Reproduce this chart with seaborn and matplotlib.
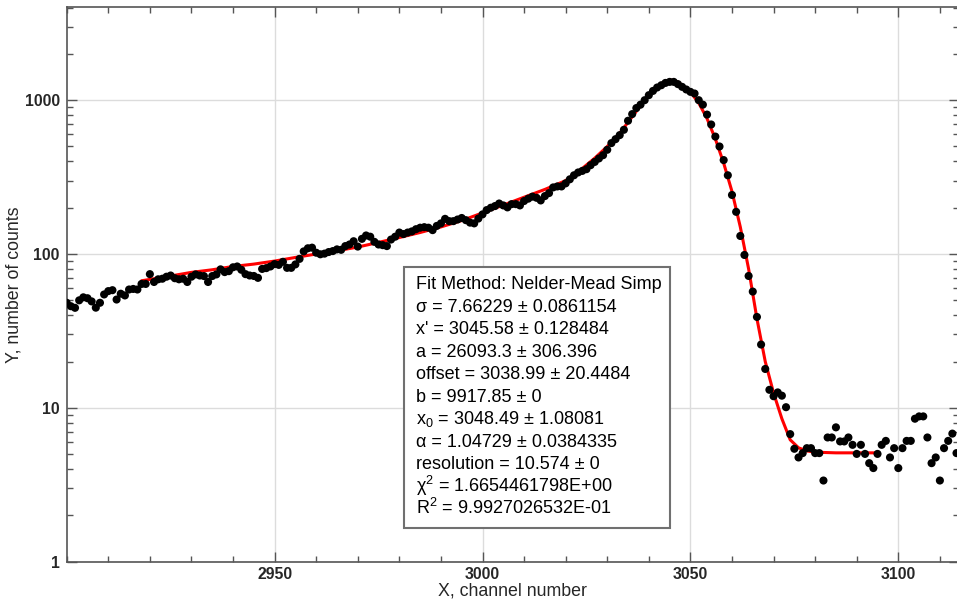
from matplotlib import pyplot as plt
from matplotlib import ticker
import seaborn as sns
import pandas as pd

# ─────────────────────────────────────────────
# DATA
# ─────────────────────────────────────────────

channel = list(range(2900, 3115))

counts = [
    48.2, 45.8, 44.7, 50.0, 52.3, 51.6, 49.2, 44.8, 48.2, 54.6,      # 2900
    57.4, 58.2, 50.6, 55.2, 53.8, 58.8, 59.3, 58.8, 63.9, 63.9,      # 2910
    74.0, 65.8, 68.5, 69.1, 71.2, 72.5, 69.6, 68.5, 69.1, 65.8,      # 2920
    71.2, 73.7, 72.5, 71.9, 65.8, 71.9, 73.7, 79.5, 76.3, 77.4,      # 2930
    82.0, 83.0, 79.0, 74.0, 72.5, 72.0, 70.0, 80.0, 81.0, 83.0,      # 2940
    86.0, 85.0, 89.0, 81.3, 81.3, 85.6, 93.0, 104.0, 109.0, 110.0,   # 2950
    102.0, 99.6, 100.6, 103.0, 104.5, 107.2, 106.5, 112.6, 115.3, 121.1,  # 2960
    111.8, 125.5, 132.0, 129.6, 120.0, 115.3, 114.2, 112.6, 124.2, 129.6,  # 2970
    137.9, 134.8, 137.9, 140.3, 145.0, 148.3, 149.5, 148.3, 143.0, 152.3,  # 2980
    158.2, 169.3, 163.6, 163.6, 167.6, 171.5, 166.0, 160.0, 158.2, 170.0,  # 2990
    181, 193, 200, 205, 213, 207, 201, 211, 211, 207,                # 3000
    221, 229, 236, 232, 223, 238, 249, 271, 275, 275,                # 3010
    288, 306, 325, 339, 347, 356, 378, 397, 418, 439,                # 3020
    476, 526, 558, 593, 642, 735, 812, 889, 935, 1000,               # 3030
    1078, 1149, 1209, 1251, 1295, 1315, 1315, 1272, 1221, 1174,      # 3040
    1133, 1105, 1000, 935, 806, 695, 580, 500, 408, 325,             # 3050
    242, 188, 131, 98.6, 72.0, 57.0, 39.0, 25.8, 17.9, 13.1,         # 3060
    11.9, 12.6, 12.0, 10.1, 6.75, 5.42, 4.76, 5.08, 5.47, 5.47,      # 3070
    5.08, 5.08, 3.37, 6.42, 6.42, 7.47, 6.05, 6.05, 6.42, 5.75,      # 3080
    5.02, 5.75, 5.02, 4.37, 4.06, 5.02, 5.75, 6.10, 4.76, 5.47,      # 3090
    4.06, 5.47, 6.10, 6.10, 8.50, 8.80, 8.80, 6.42, 4.37, 4.76,      # 3100
    3.37, 5.47, 6.10, 6.80, 5.08,                                    # 3110
]

# fitted curve (red), read at selected channels
fit_x = [2918, 2925, 2930, 2935, 2940, 2945, 2950, 2955, 2960, 2965,
         2970, 2975, 2980, 2985, 2990, 2995, 3000, 3005, 3010, 3015,
         3020, 3024, 3027, 3030, 3033, 3036, 3038, 3040, 3042, 3044,
         3045, 3046, 3047, 3048, 3050, 3052, 3054, 3056, 3058, 3060,
         3062, 3064, 3066, 3068, 3070, 3072, 3074, 3076, 3078, 3080,
         3085, 3090, 3095]
fit_y = [67, 72, 76, 79, 83, 86, 90, 95, 100, 105,
         111, 119, 128, 138, 150, 165, 185, 208, 234, 263,
         300, 360, 420, 500, 610, 780, 920, 1080, 1230, 1330,
         1350, 1345, 1310, 1250, 1130, 960, 760, 560, 390, 255,
         150, 80, 38, 20, 12.5, 8.5, 6.2, 5.5, 5.25, 5.15,
         5.1, 5.1, 5.1]

x_ticks = [2950, 3000, 3050, 3100]
y_ticks = [1, 10, 100, 1000]
y_tick_labels = ['1', '10', '100', '1000']

fit_lines = [
    'Fit Method: Nelder-Mead Simp',
    'σ = 7.66229 ± 0.0861154',
    "x' = 3045.58 ± 0.128484",
    'a = 26093.3 ± 306.396',
    'offset = 3038.99 ± 20.4484',
    'b = 9917.85 ± 0',
    r'x$_\mathregular{0}$ = 3048.49 ± 1.08081',
    'α = 1.04729 ± 0.0384335',
    'resolution = 10.574 ± 0',
    r'χ$^\mathregular{2}$ = 1.6654461798E+00',
    r'R$^\mathregular{2}$ = 9.9927026532E-01',
]

df = pd.DataFrame({'channel': channel, 'counts': counts})
fit = pd.DataFrame({'channel': fit_x, 'counts': fit_y})

# ─────────────────────────────────────────────
# STYLE
# ─────────────────────────────────────────────

sns.set_style('ticks')
plt.rcParams['font.family'] = ['Liberation Sans', 'DejaVu Sans']
plt.rcParams['mathtext.fontset'] = 'custom'
plt.rcParams['mathtext.rm'] = 'Liberation Sans'

fig = plt.figure(figsize=(9.57, 6.01), dpi=100)
ax = fig.add_axes([0.0697, 0.0654, 0.9324, 0.923])

# ─────────────────────────────────────────────
# PLOT
# ─────────────────────────────────────────────

sns.lineplot(data=fit, x='channel', y='counts', color='red', linewidth=2.2,
             ax=ax, zorder=2)
sns.scatterplot(data=df, x='channel', y='counts', color='black', s=34,
                edgecolor='none', ax=ax, zorder=3)

ax.set_yscale('log')
ax.set_xlim(2900, 3114.6)
ax.set_ylim(1, 4036)

ax.set_xticks(x_ticks)
ax.set_xticklabels([str(t) for t in x_ticks])
ax.xaxis.set_minor_locator(ticker.MultipleLocator(10))
ax.set_yticks(y_ticks)
ax.set_yticklabels(y_tick_labels)
ax.yaxis.set_minor_locator(ticker.LogLocator(base=10, subs=range(2, 10)))
ax.yaxis.set_minor_formatter(ticker.NullFormatter())

ax.grid(True, which='major', color='#dcdcdc', linewidth=1.0)
ax.set_axisbelow(True)

ax.tick_params(which='both', direction='in', top=True, right=True,
               color='#555555', width=1.0)
ax.tick_params(which='major', length=7, labelsize=11.4)
ax.tick_params(axis='x', which='major', pad=3.5)
ax.tick_params(axis='y', which='major', pad=5)
ax.tick_params(which='minor', length=4)
for lbl in ax.get_xticklabels() + ax.get_yticklabels():
    lbl.set_fontweight('bold')

for sp in ax.spines.values():
    sp.set_color('#555555')
    sp.set_linewidth(1.2)

ax.set_xlabel('X, channel number', fontsize=12.8)
ax.set_ylabel('Y, number of counts', fontsize=12.8)
ax.xaxis.set_label_coords(0.5, -0.037)
ax.yaxis.set_label_coords(-0.049, 0.5)

# fit results box
box = plt.Rectangle((0.378, 0.0613), 0.298, 0.4694, transform=ax.transAxes,
                    facecolor='white', edgecolor='#707070', linewidth=1.5,
                    zorder=5)
ax.add_patch(box)
for i, line in enumerate(fit_lines):
    base_px = 289.3 + 22.5 * i
    ax.text(0.392, (561.7 - base_px) / 554.7, line, transform=ax.transAxes,
            fontsize=13, va='baseline', ha='left', color='black', zorder=6)

plt.savefig('out.png', dpi=100)
